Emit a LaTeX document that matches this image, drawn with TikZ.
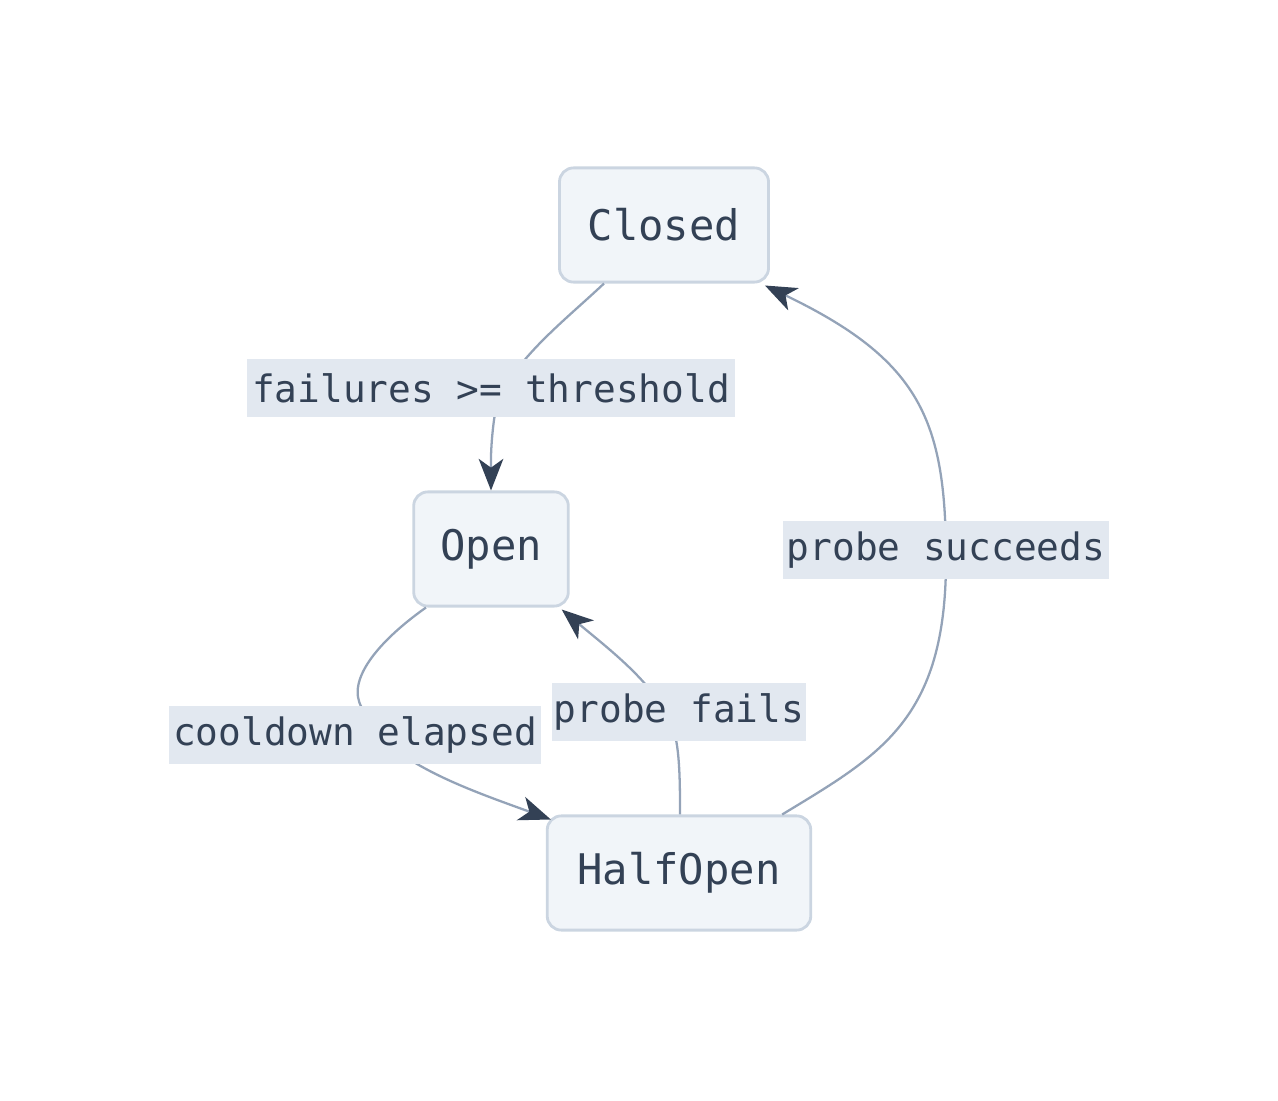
\documentclass[tikz,border=0pt]{standalone}
\usepackage{fontspec}
\setmonofont{DejaVu Sans Mono}
\usetikzlibrary{arrows.meta,calc}
\definecolor{edgegray}{HTML}{94A3B8}
\definecolor{tipdark}{HTML}{334155}
\definecolor{statefill}{HTML}{F1F5F9}
\definecolor{stateline}{HTML}{CBD5E1}
\definecolor{labelfill}{HTML}{E2E8F0}
\tikzset{
  state/.style={draw=stateline,line width=1.6pt,fill=statefill,rounded corners=8pt,
    text=tipdark,font=\ttfamily\fontsize{24}{28}\selectfont,inner sep=0pt},
  elabel/.style={fill=labelfill,text=tipdark,font=\ttfamily\fontsize{21.5}{26}\selectfont,
    inner sep=0pt,minimum height=33pt},
  trans/.style={draw=edgegray,line width=1.3pt,-{Stealth[length=18pt,width=14pt,inset=5pt,color=tipdark]}}
}
\begin{document}
\begin{tikzpicture}[x=0.02cm,y=-0.02cm]
\useasboundingbox (0,0) rectangle (1278,1101);
\node[state,minimum width=210\pgflinewidth*0+119pt,minimum height=65pt] (closed) at (664,225) {Closed};
\node[state,minimum width=88pt,minimum height=65pt] (open) at (491,549) {Open};
\node[state,minimum width=150pt,minimum height=65pt] (halfopen) at (679,873) {HalfOpen};
% transitions
\draw[trans] ($(closed.south)+(-60,0)$) .. controls (560,325) and (500,370) .. (494,420)
  .. controls (490,450) and (491,470) .. (open.north);
\draw[trans] ($(open.south)+(-65,0)$) .. controls (380,640) and (345,680) .. (362,708)
  .. controls (380,760) and (470,790) .. ($(halfopen.north west)+(5,5)$);
\draw[trans] ($(halfopen.north)+(1,0)$) .. controls (680,780) and (680,740) .. (670,720)
  .. controls (650,680) and (610,650) .. ($(open.south east)+(-8,2)$);
\draw[trans] ($(halfopen.north east)+(-30,0)$) .. controls (880,755) and (946,720) .. (946,560)
  .. controls (946,420) and (920,360) .. ($(closed.south east)+(-5,2)$);
% labels
\node[elabel,minimum width=278pt] (lfail) at (491,388) {failures >= threshold};
\node[elabel,minimum width=212pt] (lcool) at (355,735) {cooldown elapsed};
\node[elabel,minimum width=145pt] (lpfail) at (679,712) {probe fails};
\node[elabel,minimum width=185pt] (lpsucc) at (946,550) {probe succeeds};
\end{tikzpicture}
\end{document}
